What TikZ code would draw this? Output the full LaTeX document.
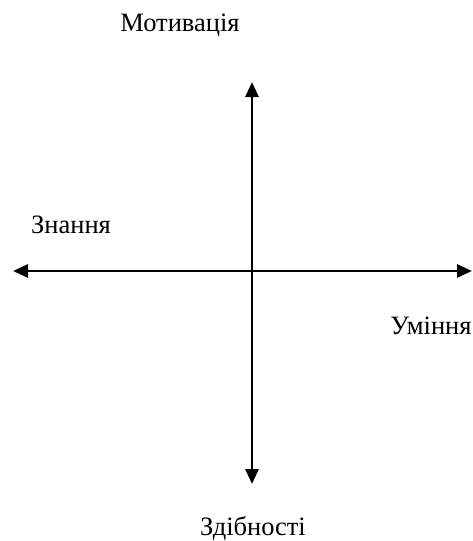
\documentclass[tikz,border=0pt]{standalone}
\usepackage{fontspec}
\setmainfont{Liberation Serif}
\usetikzlibrary{arrows.meta}

\begin{document}
\begin{tikzpicture}[x=1pt,y=-1pt,>={Triangle[length=15pt,width=13pt]},
  axis/.style={<->,line width=2.8pt},
  lbl/.style={anchor=base,inner sep=0pt,font=\fontsize{26.5}{30}\selectfont}]
  \useasboundingbox (0,0) rectangle (473,541);
  \coordinate (T) at (252,82); \coordinate (B) at (252,484);
  \coordinate (L) at (13,271); \coordinate (R) at (472,271);
  \draw[axis] (T) -- (B);
  \draw[axis] (L) -- (R);
  \node[lbl] (mot) at (180,31.7) {Мотивація};
  \node[lbl] (zn) at (71,233.3) {Знання};
  \node[lbl] (um) at (431,334) {Уміння};
  \node[lbl] (zd) at (253,535.7) {Здібності};
\end{tikzpicture}
\end{document}
